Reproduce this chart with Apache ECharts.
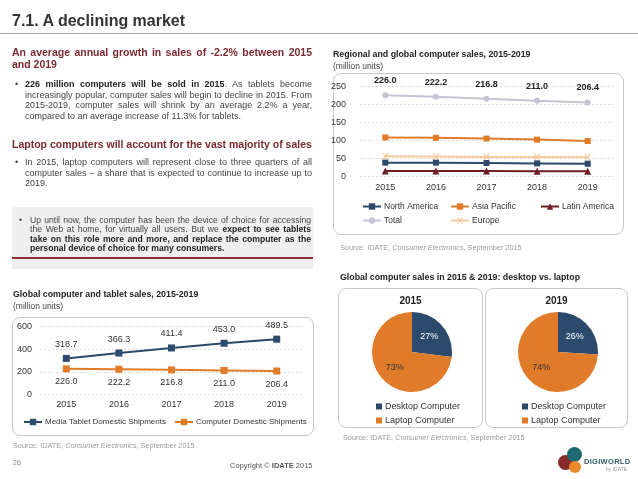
<!DOCTYPE html>
<html>
<head>
<meta charset="utf-8">
<script src="https://cdn.jsdelivr.net/npm/echarts@6/dist/echarts.min.js"></script>
<style>
html,body{margin:0;padding:0;background:#fff;}
body{width:638px;height:479px;position:relative;overflow:hidden;font-family:"Liberation Sans",Arial,sans-serif;color:#333;}
.abs{position:absolute;}
.box{position:absolute;border:1px solid #c8c8c8;border-radius:8px;box-sizing:border-box;}
.h{color:#7a2a31;font-weight:bold;font-size:10.5px;line-height:12px;}
.txt{font-size:9px;line-height:10.7px;color:#444;text-align:justify;}
.txt b{color:#222;}
.bul{position:absolute;font-size:9px;color:#444;}
.ct{font-size:8.8px;font-weight:bold;color:#222;white-space:nowrap;}
.cu{font-size:8.5px;color:#444;white-space:nowrap;}
.src{font-size:7.3px;color:#9a9a9a;white-space:nowrap;}
#chart{position:absolute;left:0;top:0;width:638px;height:479px;}
</style>
</head>
<body>
<!-- boxes -->
<div class="box" style="left:333px;top:73px;width:291px;height:162px;"></div>
<div class="box" style="left:12px;top:317px;width:302px;height:119px;"></div>
<div class="box" style="left:338px;top:288px;width:145px;height:140px;"></div>
<div class="box" style="left:485px;top:288px;width:143px;height:140px;"></div>
<div class="abs" style="left:12px;top:207px;width:301px;height:62px;background:#efefef;"></div>
<div class="abs" style="left:12px;top:257px;width:301px;height:2px;background:#8b2d35;"></div>

<div id="chart"></div>

<!-- texts -->
<div class="abs" style="left:12px;top:12px;font-size:16px;font-weight:bold;color:#333;white-space:nowrap;">7.1. A declining market</div>
<div class="abs" style="left:0;top:33px;width:638px;height:1px;background:#a8a8a8;"></div>

<div class="abs h" style="left:12px;top:46px;width:300px;text-align:justify;text-align-last:left;">An average annual growth in sales of -2.2% between 2015 and 2019</div>
<div class="bul" style="left:15px;top:79px;">•</div>
<div class="abs txt" style="left:25px;top:79px;width:287px;"><b>226 million computers will be sold in 2015</b>. As tablets become increasingly popular, computer sales will begin to decline in 2015. From 2015-2019, computer sales will shrink by an average 2.2% a year, compared to an average increase of 11.3% for tablets.</div>

<div class="abs h" style="left:12px;top:138px;white-space:nowrap;">Laptop computers will account for the vast majority of sales</div>
<div class="bul" style="left:15px;top:157px;">•</div>
<div class="abs txt" style="left:25px;top:157px;width:287px;">In 2015, laptop computers will represent close to three quarters of all computer sales – a share that is expected to continue to increase up to 2019.</div>

<div class="bul" style="left:19px;top:215px;font-size:8.5px;">•</div>
<div class="abs txt" style="left:30px;top:216px;width:281px;font-size:8.6px;line-height:9.4px;">Up until now, the computer has been the device of choice for accessing the Web at home, for virtually all users. But we <b>expect to see tablets take on this role more and more, and replace the computer as the personal device of choice for many consumers.</b></div>

<div class="abs ct" style="left:13px;top:289px;">Global computer and tablet sales, 2015-2019</div>
<div class="abs cu" style="left:13px;top:301px;">(million units)</div>
<div class="abs src" style="left:13px;top:441px;">Source: IDATE, <i>Consumer Electronics</i>, September 2015</div>

<div class="abs ct" style="left:333px;top:49px;">Regional and global computer sales, 2015-2019</div>
<div class="abs cu" style="left:333px;top:61px;">(million units)</div>
<div class="abs src" style="left:340px;top:243px;">Source: IDATE, <i>Consumer Electronics</i>, September 2015</div>

<div class="abs ct" style="left:340px;top:272px;">Global computer sales in 2015 &amp; 2019: desktop vs. laptop</div>
<div class="abs" style="left:338px;top:295px;width:145px;text-align:center;font-size:10px;font-weight:bold;color:#222;">2015</div>
<div class="abs" style="left:485px;top:295px;width:143px;text-align:center;font-size:10px;font-weight:bold;color:#222;">2019</div>
<div class="abs src" style="left:343px;top:433px;">Source: IDATE, <i>Consumer Electronics</i>, September 2015</div>

<div class="abs" style="left:13px;top:459px;font-size:7px;color:#888;">26</div>
<div class="abs" style="left:230px;top:461px;font-size:7.5px;color:#555;white-space:nowrap;">Copyright © <b>IDATE</b> 2015</div>

<!-- logo -->
<div class="abs" style="left:558px;top:455px;width:15px;height:15px;border-radius:50%;background:#8a2a2c;"></div>
<div class="abs" style="left:567px;top:447px;width:15px;height:15px;border-radius:50%;background:#1d6b70;"></div>
<div class="abs" style="left:569px;top:461px;width:12px;height:12px;border-radius:50%;background:#e8892b;"></div>
<div class="abs" style="left:584px;top:457px;font-size:7.5px;font-weight:bold;color:#2f5d6a;letter-spacing:0.3px;">DIGIWORLD</div>
<div class="abs" style="left:606px;top:466px;font-size:5px;color:#999;">by IDATE</div>

<script>
const years = ['2015', '2016', '2017', '2018', '2019'];
const northAmerica = [39, 39, 38, 37, 36];
const asiaPacific = [109, 108, 106, 103, 99];
const latinAmerica = [16, 16, 16, 15, 15];
const totalSales = [226.0, 222.2, 216.8, 211.0, 206.4];
const europe = [57, 56, 55, 55, 54];
const tabletShipments = [318.7, 366.3, 411.4, 453.0, 489.5];
const computerShipments = [226.0, 222.2, 216.8, 211.0, 206.4];
const pieNames = ['Desktop Computer', 'Laptop Computer'];
const share2015 = [27, 73];
const share2019 = [26, 74];

const NAVY = '#2c4a6b', ORANGE = '#e07b29', DRED = '#6e1f24', LAV = '#c4c4d4', PEACH = '#f6c99c';
const FONT = '"Liberation Sans", Arial, sans-serif';
const crossPath = 'path://M0,0L2,0L5,3L8,0L10,0L6,4L10,8L8,8L5,5L2,8L0,8L4,4Z';

const chart = echarts.init(document.getElementById('chart'), null, {renderer: 'canvas'});

function legendAt(name, left, top, fs) {
  return {
    data: [name], left: left, top: top, itemWidth: 18, itemHeight: 8, itemGap: 4,
    textStyle: {fontSize: fs || 8.5, color: '#333', fontFamily: FONT, padding: [0, 0, 0, -2]}, selectedMode: false, padding: 0
  };
}

const catAxis = (gi, margin) => ({
  type: 'category', gridIndex: gi, data: years,
  axisLine: {show: false}, axisTick: {show: false},
  axisLabel: {fontSize: 9, color: '#333', margin: margin, fontFamily: FONT}
});

const option = {
  animation: false,
  textStyle: {fontFamily: FONT},
  grid: [
    {left: 360, right: 25, top: 86.7, bottom: 302.3},
    {left: 40, right: 335, top: 326.7, bottom: 84.7}
  ],
  xAxis: [catAxis(0, 6), catAxis(1, 6)],
  yAxis: [
    {type: 'value', gridIndex: 0, min: 0, max: 250, interval: 50,
     axisLabel: {fontSize: 9, color: '#333', margin: 14},
     splitLine: {lineStyle: {color: '#dcdcdc', type: [2, 2]}}},
    {type: 'value', gridIndex: 1, min: 0, max: 600, interval: 200,
     axisLabel: {fontSize: 9, color: '#333', margin: 8},
     splitLine: {lineStyle: {color: '#dcdcdc', type: [2, 2]}}}
  ],
  legend: [
    legendAt('North America', 362, 202),
    legendAt('Asia Pacific', 450, 202),
    legendAt('Latin America', 540, 202),
    legendAt('Total', 362, 216),
    legendAt('Europe', 450, 216),
    legendAt('Media Tablet Domestic Shipments', 23, 418, 8),
    legendAt('Computer Domestic Shipments', 174, 418, 8),
    {data: pieNames, orient: 'vertical', left: 376, top: 402, itemWidth: 6, itemHeight: 6, itemGap: 5,
     icon: 'rect', selectedMode: false, padding: 0, textStyle: {fontSize: 9, color: '#333', padding: [0, 0, 0, -2]}},
    {data: pieNames, orient: 'vertical', left: 522, top: 402, itemWidth: 6, itemHeight: 6, itemGap: 5,
     icon: 'rect', selectedMode: false, padding: 0, textStyle: {fontSize: 9, color: '#333', padding: [0, 0, 0, -2]}}
  ],
  series: [
    {name: 'Total', type: 'line', xAxisIndex: 0, yAxisIndex: 0, data: totalSales,
     symbol: 'circle', symbolSize: 6, lineStyle: {width: 2, color: LAV}, itemStyle: {color: LAV},
     label: {show: true, position: 'top', distance: 7, fontSize: 9, fontWeight: 'bold', color: '#222',
             formatter: p => p.value.toFixed(1)}},
    {name: 'Asia Pacific', type: 'line', xAxisIndex: 0, yAxisIndex: 0, data: asiaPacific,
     symbol: 'rect', symbolSize: 6, lineStyle: {width: 2, color: ORANGE}, itemStyle: {color: ORANGE}},
    {name: 'Europe', type: 'line', xAxisIndex: 0, yAxisIndex: 0, data: europe,
     symbol: crossPath, symbolSize: 7, lineStyle: {width: 2, color: PEACH}, itemStyle: {color: PEACH}},
    {name: 'North America', type: 'line', xAxisIndex: 0, yAxisIndex: 0, data: northAmerica,
     symbol: 'rect', symbolSize: 6, lineStyle: {width: 2, color: NAVY}, itemStyle: {color: NAVY}},
    {name: 'Latin America', type: 'line', xAxisIndex: 0, yAxisIndex: 0, data: latinAmerica,
     symbol: 'triangle', symbolSize: 7, lineStyle: {width: 2, color: DRED}, itemStyle: {color: DRED}},
    {name: 'Media Tablet Domestic Shipments', type: 'line', xAxisIndex: 1, yAxisIndex: 1, data: tabletShipments,
     symbol: 'rect', symbolSize: 7, lineStyle: {width: 2, color: NAVY}, itemStyle: {color: NAVY},
     label: {show: true, position: 'top', distance: 6, fontSize: 9, color: '#333', formatter: p => p.value.toFixed(1)}},
    {name: 'Computer Domestic Shipments', type: 'line', xAxisIndex: 1, yAxisIndex: 1, data: computerShipments,
     symbol: 'rect', symbolSize: 7, lineStyle: {width: 2, color: ORANGE}, itemStyle: {color: ORANGE},
     label: {show: true, position: 'bottom', distance: 5, fontSize: 9, color: '#333', formatter: p => p.value.toFixed(1)}},
    {type: 'pie', center: [412, 352], radius: 40, startAngle: 90, clockwise: true,
     data: pieNames.map((n, i) => ({name: n, value: share2015[i]})),
     color: [NAVY, ORANGE],
     label: {position: 'inside', fontSize: 9, formatter: '{c}%', color: '#333'},
     labelLine: {show: false}, itemStyle: {borderWidth: 0}, emphasis: {disabled: true}},
    {type: 'pie', center: [558, 352], radius: 40, startAngle: 90, clockwise: true,
     data: pieNames.map((n, i) => ({name: n, value: share2019[i]})),
     color: [NAVY, ORANGE],
     label: {position: 'inside', fontSize: 9, formatter: '{c}%', color: '#333'},
     labelLine: {show: false}, itemStyle: {borderWidth: 0}, emphasis: {disabled: true}}
  ]
};
// white labels on desktop slices
option.series[7].data[0].label = {color: '#fff'};
option.series[8].data[0].label = {color: '#fff'};
chart.setOption(option);
</script>
</body>
</html>
